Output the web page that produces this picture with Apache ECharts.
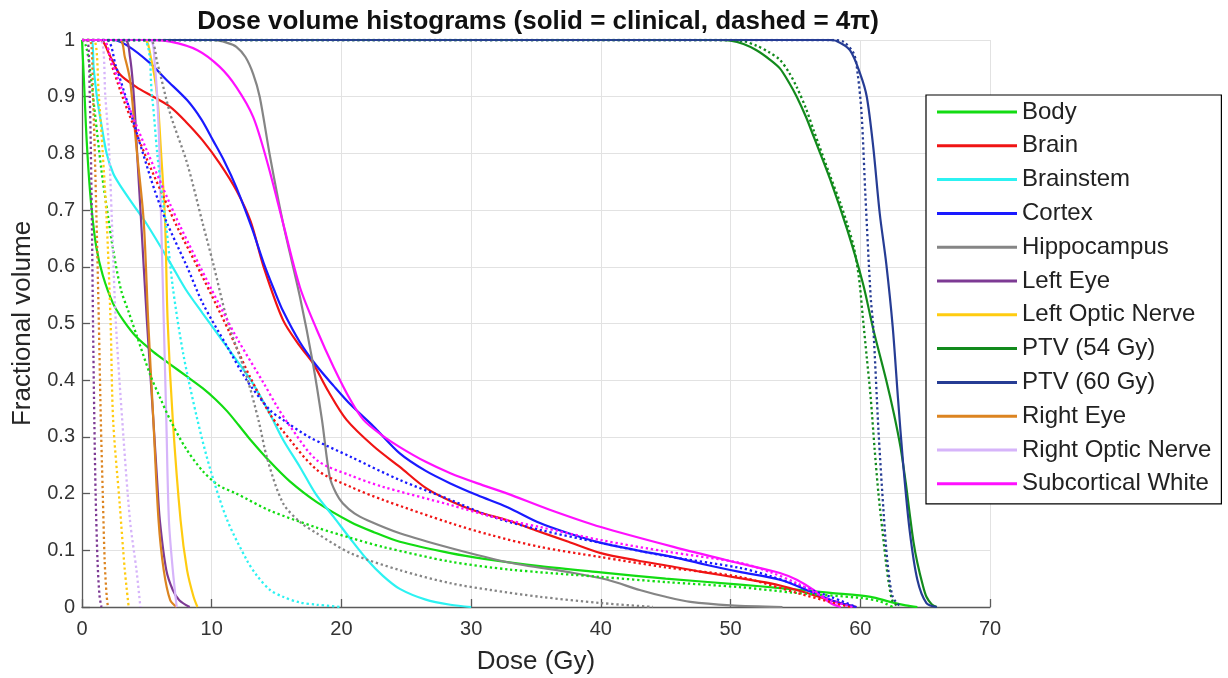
<!DOCTYPE html>
<html>
<head>
<meta charset="utf-8">
<script src="https://cdn.jsdelivr.net/npm/echarts@6/dist/echarts.min.js"></script>
<style>
  html, body { margin: 0; padding: 0; background: #fff; }
  #chart { width: 1228px; height: 678px; }
</style>
</head>
<body>
<div id="chart"></div>
<script>
// ---------- DATA ----------
const structures = ['Body', 'Brain', 'Brainstem', 'Cortex', 'Hippocampus', 'Left Eye',
  'Left Optic Nerve', 'PTV (54 Gy)', 'PTV (60 Gy)', 'Right Eye', 'Right Optic Nerve', 'Subcortical White'];

const xTicks = [0, 10, 20, 30, 40, 50, 60, 70];
const yTicks = [0, 0.1, 0.2, 0.3, 0.4, 0.5, 0.6, 0.7, 0.8, 0.9, 1];

// clinical (solid) curves: [dose Gy, fractional volume]
const bodyClinical = [[0,1],[0.15,0.93],[0.3,0.85],[0.5,0.77],[0.75,0.70],[1.1,0.635],[1.6,0.585],[2.4,0.535],[3.2,0.505],[4.2,0.476],[5.5,0.45],[6.8,0.428],[8,0.408],[9.3,0.386],[10.3,0.366],[11.2,0.345],[12.1,0.32],[12.95,0.296],[14.5,0.256],[16,0.222],[18.1,0.185],[20.7,0.15],[22.5,0.132],[24.5,0.115],[28.4,0.095],[31,0.085],[35.3,0.072],[40,0.061],[45,0.05],[50.5,0.04],[54,0.033],[57.7,0.025],[60.8,0.018],[62.3,0.009],[63.5,0.003],[64.4,0]];
const brainClinical = [[0,1],[1.4,1],[2.2,0.97],[2.9,0.94],[4.2,0.917],[5.5,0.9],[6.8,0.882],[8,0.856],[9.3,0.823],[10.6,0.783],[11.9,0.735],[13,0.68],[14,0.6],[15.5,0.506],[16.8,0.46],[17.8,0.43],[19,0.38],[20.4,0.33],[22.5,0.283],[24.5,0.247],[26.5,0.21],[28.4,0.187],[30.5,0.168],[32.8,0.153],[35,0.135],[37.5,0.115],[40,0.095],[42.8,0.082],[45.6,0.071],[48,0.061],[50.7,0.051],[53,0.042],[55.1,0.03],[57.7,0.012],[59.7,0]];
const brainstemClinical = [[0,1],[0.7,1],[0.9,0.95],[1.15,0.9],[1.5,0.85],[1.9,0.8],[2.4,0.765],[2.9,0.745],[4,0.708],[5,0.675],[6.8,0.607],[8,0.56],[9.3,0.518],[10.6,0.477],[11.9,0.436],[13.2,0.393],[14.5,0.34],[15.5,0.295],[16.8,0.247],[18,0.2],[19.4,0.159],[20.7,0.12],[22,0.083],[23.2,0.055],[24.5,0.032],[26.5,0.013],[28.4,0.004],[30,0]];
const cortexClinical = [[0,1],[2.4,1],[3.5,0.99],[5.2,0.96],[6.5,0.93],[8.1,0.894],[9.2,0.86],[10.1,0.823],[11,0.785],[11.9,0.74],[13.1,0.668],[14,0.607],[14.8,0.56],[15.5,0.522],[16.8,0.467],[18.1,0.425],[19.4,0.39],[20.7,0.357],[22.5,0.318],[24.5,0.271],[26.5,0.24],[28.4,0.218],[30.5,0.197],[32.8,0.176],[35.3,0.148],[37.5,0.13],[40,0.113],[42.8,0.1],[45.6,0.088],[48,0.075],[50.7,0.062],[53.8,0.048],[56.4,0.025],[58,0.01],[59.7,0]];
const hippocampusClinical = [[0,1],[10.1,1],[11.2,0.995],[11.9,0.988],[12.6,0.97],[13.2,0.94],[13.7,0.9],[14.5,0.794],[15.5,0.677],[16.8,0.547],[17.8,0.43],[18.5,0.33],[19.1,0.229],[19.6,0.2],[20.1,0.183],[21,0.165],[22,0.153],[24.5,0.13],[28.4,0.104],[32.8,0.079],[37.9,0.06],[40.5,0.048],[43,0.03],[45,0.018],[46.9,0.009],[50,0.003],[54,0]];
const leftEyeClinical = [[0,1],[3.3,1],[3.7,0.97],[4.0,0.9],[4.3,0.78],[4.55,0.683],[5.0,0.506],[5.5,0.33],[5.8,0.22],[6.0,0.153],[6.5,0.065],[7.0,0.03],[7.5,0.012],[8.3,0]];
const leftOpticClinical = [[0,1],[4.8,1],[5.3,0.97],[5.8,0.9],[6.1,0.8],[6.4,0.683],[6.6,0.506],[7.0,0.33],[7.6,0.153],[8.1,0.065],[8.6,0.018],[8.9,0]];
const ptv54Clinical = [[0,1],[49,1],[50,0.999],[51,0.993],[52,0.982],[53,0.966],[53.8,0.95],[54.5,0.925],[55.1,0.9],[55.8,0.865],[56.4,0.83],[57.7,0.753],[59,0.665],[60.2,0.571],[61,0.49],[62,0.4],[62.6,0.34],[63.1,0.282],[63.5,0.22],[63.8,0.166],[64.1,0.115],[64.4,0.078],[64.8,0.04],[65.1,0.018],[65.5,0.005],[65.9,0]];
const ptv60Clinical = [[0,1],[57.5,1],[58.2,0.998],[59.2,0.982],[60,0.94],[60.5,0.9],[61,0.811],[61.5,0.694],[62,0.606],[62.5,0.494],[62.9,0.37],[63.3,0.254],[63.8,0.136],[64.4,0.048],[65.1,0.007],[65.9,0]];
const rightEyeClinical = [[0,1],[2.9,1],[3.3,0.97],[3.7,0.93],[4.2,0.81],[4.75,0.683],[5.1,0.506],[5.5,0.33],[5.9,0.153],[6.3,0.065],[6.8,0.012],[7.3,0]];
const rightOpticClinical = [[0,1],[5.2,1],[5.6,0.96],[5.9,0.85],[6.1,0.683],[6.3,0.506],[6.5,0.33],[6.7,0.153],[7.0,0.065],[7.3,0]];
const subcorticalClinical = [[0,1],[5,1],[6.8,0.997],[8.9,0.982],[10.6,0.953],[11.9,0.917],[13.2,0.864],[14.3,0.783],[15.5,0.677],[16.8,0.564],[18.1,0.489],[19.4,0.423],[20.7,0.365],[21.7,0.33],[23,0.305],[24.5,0.282],[26.5,0.256],[28.4,0.236],[30.5,0.218],[32.8,0.2],[36,0.172],[40,0.141],[45.6,0.106],[50.7,0.077],[53.8,0.06],[55.1,0.048],[56.4,0.03],[57.7,0.007],[58.5,0]];

// 4π (dashed) curves
const body4pi = [[0,1],[0.3,0.99],[0.6,0.95],[1,0.87],[1.5,0.77],[2,0.69],[2.4,0.63],[3,0.56],[3.6,0.52],[4.2,0.48],[5.25,0.41],[6,0.37],[6.8,0.33],[8,0.28],[9.3,0.24],[10.5,0.215],[11.9,0.2],[14.5,0.17],[18.1,0.14],[20.7,0.122],[23.2,0.106],[28.4,0.08],[33,0.066],[40,0.053],[45,0.044],[50.7,0.035],[55,0.025],[60,0.016],[61.5,0.01],[62.5,0]];
const brain4pi = [[0,1],[1.6,1],[2.3,0.955],[3.2,0.895],[5.0,0.79],[6.8,0.697],[7.3,0.672],[9.3,0.582],[11.4,0.483],[12.95,0.406],[14.5,0.34],[15.5,0.31],[18.1,0.242],[20.7,0.212],[23.2,0.189],[28.4,0.148],[31.5,0.127],[35.3,0.106],[40,0.088],[45,0.07],[50.7,0.053],[55.1,0.025],[57.5,0.01],[59.2,0]];
const brainstem4pi = [[0,1],[4.7,1],[5.4,0.9],[5.8,0.8],[6.2,0.72],[6.5,0.67],[7.0,0.564],[7.8,0.447],[8.9,0.33],[9.9,0.242],[11.2,0.153],[12.7,0.083],[13.5,0.055],[14.5,0.03],[15.5,0.018],[16.8,0.008],[18.1,0.004],[20,0]];
const cortex4pi = [[0,1],[1.9,1],[2.6,0.955],[3.5,0.89],[4.7,0.8],[5.6,0.735],[6.5,0.68],[8.1,0.6],[9.3,0.536],[11.2,0.459],[12.7,0.4],[14.5,0.347],[15.5,0.33],[17.5,0.3],[20.7,0.265],[24.5,0.224],[28.4,0.189],[31.5,0.16],[35.3,0.136],[40,0.113],[45,0.09],[50.7,0.069],[53,0.055],[55.1,0.039],[57.7,0.018],[59.7,0]];
const hippocampus4pi = [[0,1],[5.2,1],[5.8,0.96],[6.8,0.87],[8.1,0.783],[9.3,0.677],[10.1,0.607],[11.2,0.506],[12.7,0.406],[13.6,0.33],[14.3,0.26],[15.5,0.183],[16.8,0.15],[18.1,0.13],[20.7,0.095],[24.5,0.065],[28.4,0.042],[31.5,0.03],[35.3,0.018],[40,0.007],[44,0]];
const leftEye4pi = [[0,1],[0.4,1],[0.6,0.9],[0.75,0.7],[0.85,0.5],[0.95,0.33],[1.05,0.2],[1.2,0.08],[1.35,0.02],[1.5,0]];
const leftOptic4pi = [[0,1],[0.9,1],[1.3,0.9],[1.6,0.8],[1.9,0.683],[2.2,0.506],[2.4,0.33],[2.9,0.183],[3.3,0.065],[3.6,0]];
const ptv544pi = [[0,1],[50,1],[51,0.998],[52,0.99],[53,0.978],[53.8,0.965],[54.5,0.943],[55.1,0.917],[55.8,0.88],[56.4,0.841],[57.7,0.759],[58.5,0.71],[59,0.675],[59.5,0.635],[59.9,0.58],[60.2,0.51],[60.5,0.44],[60.8,0.37],[61.1,0.28],[61.4,0.2],[61.7,0.136],[62,0.075],[62.2,0.042],[62.5,0.01],[63,0]];
const ptv604pi = [[0,1],[58,1],[58.7,0.997],[59.5,0.976],[59.8,0.94],[60.1,0.87],[60.4,0.723],[60.8,0.547],[61,0.494],[61.4,0.312],[61.8,0.166],[62.1,0.078],[62.5,0.018],[63.1,0]];
const rightEye4pi = [[0,1],[0.6,1],[0.85,0.9],[1.1,0.7],[1.3,0.5],[1.45,0.33],[1.6,0.2],[1.75,0.08],[1.9,0.02],[2.0,0]];
const rightOptic4pi = [[0,1],[1.4,1],[1.8,0.9],[2.1,0.8],[2.3,0.683],[2.6,0.506],[3.1,0.33],[3.7,0.153],[4.2,0.065],[4.5,0]];
const subcortical4pi = [[0,1],[1.6,1],[2.3,0.96],[3.3,0.9],[5.0,0.805],[6.8,0.71],[7.6,0.67],[9.9,0.564],[11.9,0.476],[14,0.395],[15,0.355],[16,0.32],[18.1,0.259],[20.7,0.232],[23.2,0.212],[28.4,0.18],[31.5,0.16],[35.3,0.141],[40,0.118],[45,0.098],[50.7,0.078],[53,0.062],[55.1,0.042],[57.7,0.012],[59.4,0]];

const clinicalData = [bodyClinical, brainClinical, brainstemClinical, cortexClinical, hippocampusClinical,
  leftEyeClinical, leftOpticClinical, ptv54Clinical, ptv60Clinical, rightEyeClinical, rightOpticClinical, subcorticalClinical];
const fourPiData = [body4pi, brain4pi, brainstem4pi, cortex4pi, hippocampus4pi,
  leftEye4pi, leftOptic4pi, ptv544pi, ptv604pi, rightEye4pi, rightOptic4pi, subcortical4pi];

const colors = ['#12dc12', '#f01414', '#2cf2f2', '#1a1aff', '#858585', '#7d3a94',
  '#ffcc10', '#128a1c', '#263c94', '#dc8420', '#d6b4fa', '#ff10ff'];

// ---------- CHART ----------
const FONT = 'Liberation Sans, Arial, Helvetica, sans-serif';
const chart = echarts.init(document.getElementById('chart'), null, { renderer: 'canvas' });

const series = [];
structures.forEach((name, i) => {
  series.push({
    name: name, type: 'line', data: clinicalData[i], showSymbol: false, symbol: 'none',
    smooth: 0.3, clip: true, z: 2,
    lineStyle: { color: colors[i], width: 2.2, type: 'solid' },
    itemStyle: { color: colors[i] }
  });
});
structures.forEach((name, i) => {
  series.push({
    name: name + ' (4π)', type: 'line', data: fourPiData[i], showSymbol: false, symbol: 'none',
    smooth: 0.3, clip: true, z: 2,
    lineStyle: { color: colors[i], width: 2.3, type: [2.3, 2.8] },
    itemStyle: { color: colors[i] }
  });
});

const axisGray = '#5a5a5a';
const option = {
  animation: false,
  backgroundColor: '#ffffff',
  textStyle: { fontFamily: FONT },
  title: {
    text: 'Dose volume histograms (solid = clinical, dashed = 4π)',
    left: 533, top: 4, textAlign: 'center',
    textStyle: { fontFamily: FONT, fontSize: 26, fontWeight: 'bold', color: '#111' }
  },
  grid: { left: 82, right: 238, top: 40, bottom: 71, containLabel: false, outerBoundsMode: 'none' },
  legend: {
    data: structures,
    orient: 'vertical', left: 926, top: 95,
    icon: 'rect',
    itemWidth: 80, itemHeight: 3, itemGap: 9.8,
    padding: [5, 10, 8, 11],
    backgroundColor: '#ffffff', borderColor: '#000', borderWidth: 1.2,
    textStyle: { fontFamily: FONT, fontSize: 24, lineHeight: 24, color: '#222' },
    selectedMode: false
  },
  xAxis: {
    type: 'value', min: xTicks[0], max: xTicks[xTicks.length - 1], interval: 10,
    name: 'Dose (Gy)', nameLocation: 'middle', nameGap: 42,
    nameTextStyle: { fontFamily: FONT, fontSize: 26, color: '#262626' },
    axisLine: { show: true, lineStyle: { color: axisGray, width: 1.3 } },
    axisTick: { show: true, inside: true, length: 8, lineStyle: { color: axisGray, width: 1.3 } },
    axisLabel: { fontFamily: FONT, fontSize: 20, color: '#333', margin: 12 },
    splitLine: { show: true, lineStyle: { color: '#e2e2e2', width: 1 } }
  },
  yAxis: {
    type: 'value', min: yTicks[0], max: yTicks[yTicks.length - 1], interval: 0.1,
    name: 'Fractional volume', nameLocation: 'middle', nameGap: 41,
    nameTextStyle: { fontFamily: FONT, fontSize: 26, color: '#262626' },
    axisLine: { show: true, lineStyle: { color: axisGray, width: 1.3 } },
    axisTick: { show: true, inside: true, length: 8, lineStyle: { color: axisGray, width: 1.3 } },
    axisLabel: { fontFamily: FONT, fontSize: 20, color: '#333', margin: 7,
      formatter: v => String(Math.round(v * 10) / 10) },
    splitLine: { show: true, lineStyle: { color: '#e2e2e2', width: 1 } }
  },
  series: series
};
chart.setOption(option);
</script>
</body>
</html>
